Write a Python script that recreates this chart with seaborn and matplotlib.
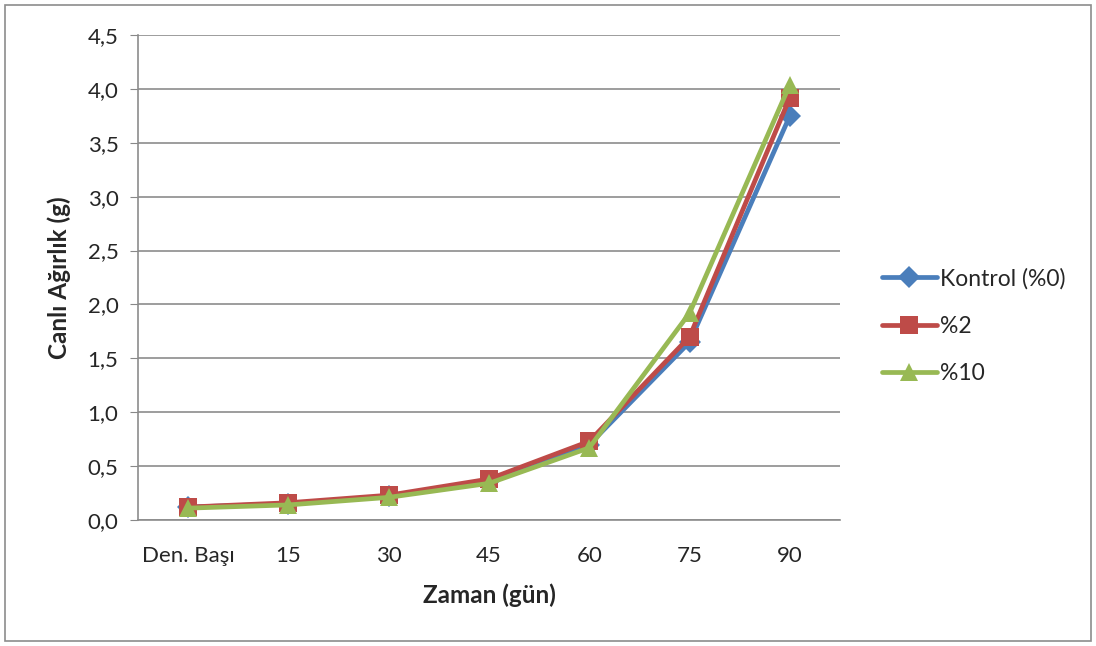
import numpy as np
import pandas as pd
import matplotlib.pyplot as plt
import seaborn as sns

# veriler
zaman = ["Den. Başı", "15", "30", "45", "60", "75", "90"]
kontrol = [0.12, 0.15, 0.22, 0.36, 0.70, 1.65, 3.75]
yuzde2 = [0.12, 0.16, 0.23, 0.38, 0.73, 1.70, 3.92]
yuzde10 = [0.11, 0.14, 0.21, 0.34, 0.67, 1.92, 4.04]
seriler = ["Kontrol (%0)", "%2", "%10"]
y_ticks = [0.0, 0.5, 1.0, 1.5, 2.0, 2.5, 3.0, 3.5, 4.0, 4.5]

df = pd.DataFrame({
    "Zaman": zaman * 3,
    "Ağırlık": kontrol + yuzde2 + yuzde10,
    "Grup": [s for s in seriler for _ in zaman],
})

sns.set_style("white")
plt.rcParams["font.family"] = ["Lato", "DejaVu Sans"]

renkler = {"Kontrol (%0)": "#4A7EBB", "%2": "#BE4B48", "%10": "#98B954"}
isaretler = {"Kontrol (%0)": "D", "%2": "s", "%10": "^"}

fig = plt.figure(figsize=(10.96, 6.46), dpi=100)
ax = fig.add_axes([138 / 1096, 1 - 520 / 646, (840 - 138) / 1096, (520 - 35) / 646])

for grup in seriler:
    alt = df[df["Grup"] == grup]
    sns.lineplot(data=alt, x="Zaman", y="Ağırlık", color=renkler[grup], marker=isaretler[grup],
                 markersize=13 if grup != "Kontrol (%0)" else 11, markeredgewidth=0,
                 linewidth=3.4, label=grup, ax=ax, sort=False)

ax.set_xlim(-0.5, len(zaman) - 0.5)
ax.set_ylim(0, 4.5)
ax.set_yticks(y_ticks)
ax.set_yticklabels([f"{v:.1f}".replace(".", ",") for v in y_ticks], fontsize=16)
ax.set_xticks(range(len(zaman)))
ax.set_xticklabels(zaman, fontsize=16)
ax.tick_params(axis="x", length=0, pad=19)
ax.tick_params(axis="y", length=6, color="#888888", direction="out", pad=8, left=True)
ax.yaxis.grid(True, color="#8c8c8c", linewidth=1.2)
ax.set_axisbelow(True)
for s in ["top", "right"]:
    ax.spines[s].set_visible(False)
for s in ["left", "bottom"]:
    ax.spines[s].set_color("#8c8c8c")
    ax.spines[s].set_linewidth(1.2)

ax.set_xlabel("Zaman (gün)", fontsize=17.5, fontweight="bold", labelpad=12)
ax.set_ylabel("Canlı Ağırlık (g)", fontsize=17.5, fontweight="bold", labelpad=12)

leg = ax.legend(loc="center left", bbox_to_anchor=(1.030, 0.400), frameon=False, fontsize=16.5,
                handlelength=2.4, labelspacing=1.15, handletextpad=0.15)

# dış çerçeve
fig.patches.append(plt.Rectangle((5 / 1096, 5 / 646), 1 - 10 / 1096, 1 - 10 / 646,
                                 transform=fig.transFigure, fill=False,
                                 edgecolor="#8c8c8c", linewidth=1.2))

fig.savefig("out.png", dpi=100)
